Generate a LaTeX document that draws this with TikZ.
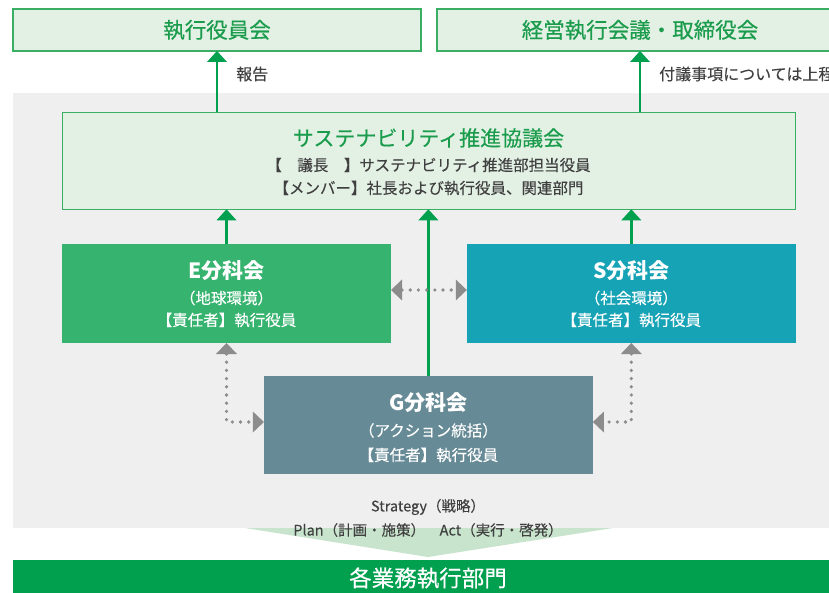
\documentclass[tikz,border=0pt]{standalone}
\usepackage{fontspec}
\setmainfont{Noto Sans CJK JP}
\newfontfamily\medfont[FakeBold=0.4]{Noto Sans CJK JP}
\newfontfamily\semfont[FakeBold=0.15]{Noto Sans CJK JP}
\usetikzlibrary{arrows.meta}
\definecolor{topfill}{HTML}{E3F1E5}
\definecolor{topdraw}{HTML}{3AAE65}
\definecolor{titlegreen}{HTML}{1A9C4C}
\definecolor{arrgreen}{HTML}{00A04F}
\definecolor{ebox}{HTML}{36B36E}
\definecolor{sbox}{HTML}{16A3B5}
\definecolor{gbox}{HTML}{678B96}
\definecolor{bggray}{HTML}{EFEFEF}
\definecolor{funnel}{HTML}{C8E4CD}
\definecolor{darktext}{HTML}{404040}
\definecolor{arrgray}{HTML}{8C8C8C}
\newcommand{\fs}[1]{\fontsize{#1}{#1}\selectfont}
\begin{document}
\begin{tikzpicture}[x=1pt,y=-1pt,
  topbox/.style={draw=topdraw,fill=topfill,line width=1.2pt,inner sep=0pt,outer sep=0pt,text=titlegreen,font=\medfont\fs{21.5}},
  unitbox/.style={inner sep=0pt,outer sep=0pt,minimum width=329pt,minimum height=99pt},
  wtitle/.style={text=white,font=\fs{21}\bfseries,inner sep=0pt},
  wline/.style={text=white,font=\semfont\fs{15.5},inner sep=0pt},
  dline/.style={text=darktext,font=\semfont\fs{15.5},inner sep=0pt},
  garr/.style={draw=arrgreen,line width=2.7pt,-{Triangle[width=20pt,length=11pt,line width=0pt]}},
  dotarr/.style={draw=arrgray,line width=3.6pt,line cap=round,dash pattern=on 0pt off 8.2pt,
     {Triangle[width=21pt,length=11pt,line width=0pt]}-{Triangle[width=21pt,length=11pt,line width=0pt]}}
]
\useasboundingbox (0,0) rectangle (829,593);
\fill[white] (0,0) rectangle (829,593);
% gray background
\fill[bggray] (13,93) rectangle (845,528);
% funnel
\fill[funnel] (245,528) -- (613,528) -- (428,557) -- cycle;
% bottom bar
\fill[arrgreen] (13,560) rectangle (845,600);
\node[text=white,font=\medfont\fs{22.5},inner sep=0pt] (bar) at (428,578) {各業務執行部門};

% top boxes
\node[topbox,minimum width=408pt,minimum height=42pt] (top1) at (217,30) {執行役員会};
\node[topbox,minimum width=408pt,minimum height=42pt,anchor=west] (top2) at (437,30) {};
\node[text=titlegreen,font=\medfont\fs{21.5},inner sep=0pt] (top2t) at (640,30) {経営執行会議・取締役会};

% council
\node[draw=topdraw,fill=topfill,line width=1.2pt,inner sep=0pt,outer sep=0pt,
      minimum width=733pt,minimum height=97pt] (council) at (428.7,160.8) {};
\node[text=titlegreen,font=\medfont\fs{21},inner sep=0pt] (ct) at (428.5,138) {サステナビリティ推進協議会};
\node[dline] (c1) at (428.5,165) {【　議長　】サステナビリティ推進部担当役員};
\node[dline] (c2) at (428.5,188) {【メンバー】社長および執行役員、関連部門};

% units
\node[unitbox,fill=ebox] (E) at (226.5,293.5) {};
\node[wtitle] (Et) at (226.5,271) {E分科会};
\node[wline] (E1) at (226.5,298) {（地球環境）};
\node[wline] (E2) at (226.5,320) {【責任者】執行役員};

\node[unitbox,fill=sbox] (S) at (631.3,293.5) {};
\node[wtitle] (St) at (631.3,271) {S分科会};
\node[wline] (S1) at (631.3,298) {（社会環境）};
\node[wline] (S2) at (631.3,320) {【責任者】執行役員};

\node[unitbox,fill=gbox,minimum height=98pt] (G) at (428.4,425) {};
\node[wtitle] (Gt) at (428.4,403) {G分科会};
\node[wline] (G1) at (428.4,430.5) {（アクション統括）};
\node[wline] (G2) at (428.4,455) {【責任者】執行役員};

% bottom texts
\node[dline,font=\semfont\fs{14.5}] (strat) at (428,507) {Strategy（戦略）};
\node[dline,font=\semfont\fs{14.5}] (plan) at (428,530) {Plan（計画・施策）\hspace{1em}Act（実行・啓発）};

% green arrows
\draw[garr] (council.north -| top1.south) -- (top1.south);
\draw[garr] (council.north -| top2t) -- (top2t |- top1.south);
\draw[garr] (E.north) -- (E.north |- council.south);
\draw[garr] (S.north) -- (S.north |- council.south);
\draw[garr] (G.north) -- (G.north |- council.south);

% labels
\node[dline,font=\semfont\fs{16},anchor=west] (lab1) at (236,74) {報告};
\node[dline,font=\semfont\fs{16},anchor=west] (lab2) at (659,74) {付議事項については上程};

% gray dotted arrows
\draw[dotarr] ([yshift=3.5pt]E.east) -- ([yshift=3.5pt]S.west);
\draw[dotarr] (E.south) |- ([yshift=3pt]G.west);
\draw[dotarr] (S.south) |- ([yshift=3pt]G.east);
\end{tikzpicture}
\end{document}
